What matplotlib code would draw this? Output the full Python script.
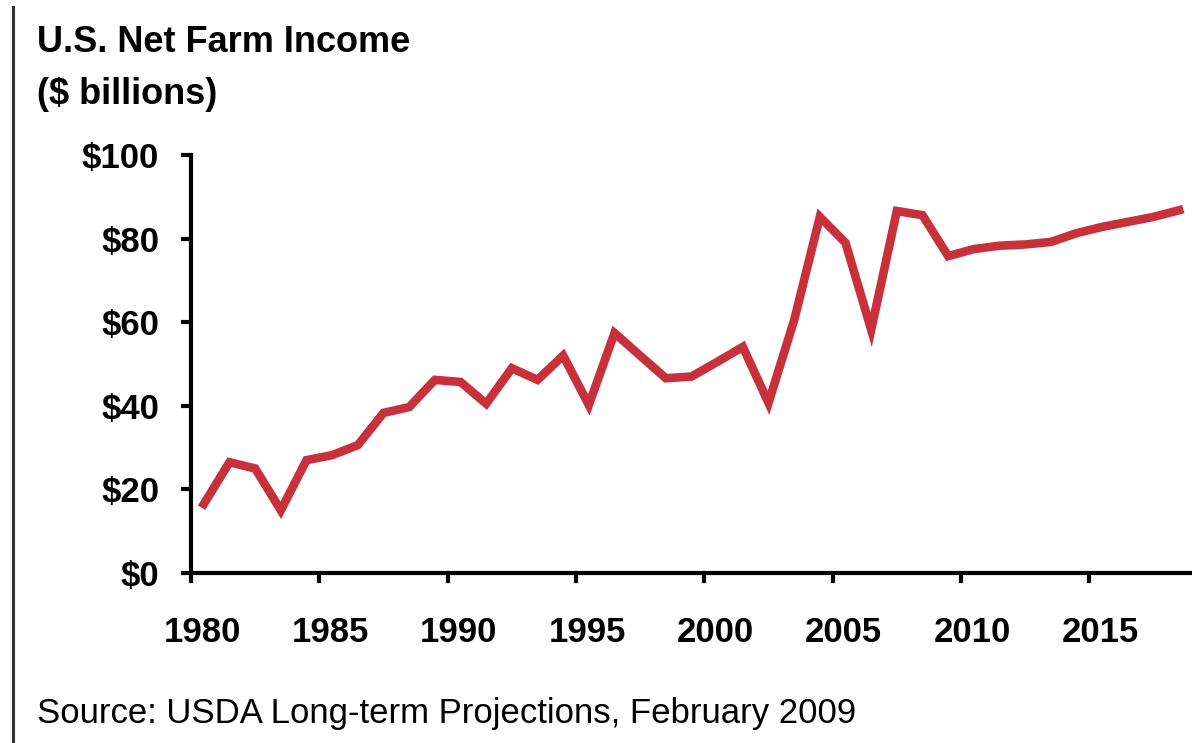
import matplotlib
matplotlib.use("Agg")
import matplotlib.pyplot as plt
from matplotlib.lines import Line2D
import numpy as np

# U.S. net farm income, $ billions (1980-2018, projections from 2009 on)
years = list(range(1980, 2019))
income = [
    16.5, 26.5, 25.0, 15.0, 27.0, 28.2, 30.6, 38.3, 39.7, 46.2,
    45.7, 40.5, 49.0, 46.2, 52.0, 40.2, 57.4, 52.0, 46.6, 47.0,
    50.5, 54.1, 40.7, 60.5, 85.2, 79.0, 58.2, 86.6, 85.6, 75.8,
    77.5, 78.3, 78.6, 79.2, 81.3, 82.8, 84.0, 85.2, 86.8,
]
year_ticks = list(range(1980, 2020, 5))
value_ticks = [0, 20, 40, 60, 80, 100]

red = "#C8303B"
font = "Liberation Sans"

fig = plt.figure(figsize=(11.92, 7.43), dpi=100)
ax = fig.add_axes([191 / 1192, 1 - 573 / 743, 1 - 191 / 1192, (573 - 155) / 743])

# Excel-style category axis: points sit halfway between year ticks
x = np.array(years) + 0.5
ax.plot(x, income, color=red, linewidth=6.2, solid_joinstyle="miter", clip_on=False)

ax.set_xlim(1980, 2019)
ax.set_ylim(0, 100)

# tick marks on the year boundaries, labels nudged a bit right (as in the original)
ax.set_xticks(year_ticks)
ax.set_xticklabels([])
ax.set_xticks(np.array(year_ticks) + 0.43, minor=True)
ax.set_xticklabels([str(y) for y in year_ticks], minor=True,
                   fontfamily=font, fontweight="bold", fontsize=25)
ax.tick_params(axis="x", which="minor", length=0, pad=31)

ax.set_yticks(value_ticks)
ax.set_yticklabels([f"${v}" for v in value_ticks], fontfamily=font, fontweight="bold", fontsize=25)

for side in ("top", "right"):
    ax.spines[side].set_visible(False)
for side in ("left", "bottom"):
    ax.spines[side].set_linewidth(3)
    ax.spines[side].set_color("black")
ax.tick_params(axis="both", which="major", direction="out", length=7, width=3, color="black")
ax.tick_params(axis="y", pad=16)

fig.text(37 / 1192, 1 - 42 / 743, "U.S. Net Farm Income", fontfamily=font, fontweight="bold",
         fontsize=26, va="center", ha="left")
fig.text(37 / 1192, 1 - 95 / 743, "($ billions)", fontfamily=font, fontweight="bold",
         fontsize=26, va="center", ha="left")
fig.text(37 / 1192, 1 - 714 / 743, "Source: USDA Long-term Projections, February 2009",
         fontfamily=font, fontsize=25, va="center", ha="left")

# thin frame line down the left edge
fig.add_artist(Line2D([13 / 1192, 13 / 1192], [0, 1 - 7 / 743], transform=fig.transFigure,
                      color="#333333", linewidth=2.2))

fig.savefig("out.png", dpi=100)
